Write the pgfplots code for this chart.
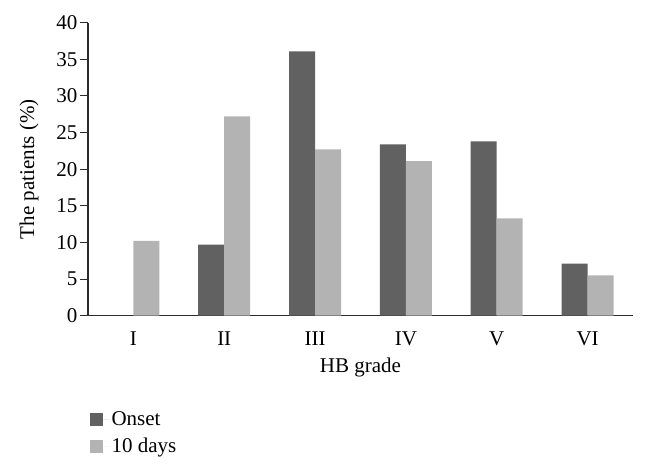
\documentclass[border=0pt]{standalone}
\usepackage{pgfplots}
\pgfplotsset{compat=1.18}
\usepackage{fontspec}
\setmainfont{Liberation Serif}
\definecolor{onset}{HTML}{616161}
\definecolor{tendays}{HTML}{B3B3B3}
\definecolor{axisline}{HTML}{2B2B2B}

\begin{document}
\begin{tikzpicture}
\path[use as bounding box] (0,0) rectangle (646pt,471pt);
\begin{axis}[
    at={(88pt,155.3pt)}, anchor=south west,
    scale only axis, width=545pt, height=293pt,
    ybar=0pt, bar width=26pt,
    xmin=-0.5, xmax=5.5,
    ymin=0, ymax=40, ytick={0,5,...,40},
    xtick=data, xticklabels={I,II,III,IV,V,VI},
    axis x line*=bottom, axis y line*=left,
    axis line style={line width=1.2pt, color=axisline},
    x axis line style={-}, y axis line style={-},
    xtick style={draw=none},
    ytick style={line width=1pt, color=axisline},
    tick align=outside, major tick length=8pt,
    /pgf/number format/assume math mode=true,
    tick label style={font=\fontsize{21}{24}\selectfont},
    xticklabel style={yshift=-5pt},
    yticklabel style={xshift=1pt},
    label style={font=\fontsize{21}{24}\selectfont},
    xlabel={HB grade}, ylabel={The patients (\%)},
    xlabel style={at={(axis description cs:0.5,-0.178)}, anchor=center},
    ylabel style={at={(axis description cs:-0.108,0.5)}, anchor=center},
    legend style={at={(axis description cs:-0.003,-0.313)}, anchor=north west,
        draw=none, fill=none, font=\fontsize{21}{24}\selectfont,
        row sep=7pt, legend cell align=left},
    legend image code/.code={\fill[#1] (0pt,-6.5pt) rectangle (13pt,6.5pt);
        \path (0pt,0pt) -- (20pt,0pt);},
]
\addplot[fill=onset, draw=none] coordinates {(0,0) (1,9.7) (2,36.1) (3,23.4) (4,23.8) (5,7.1)};
\addplot[fill=tendays, draw=none] coordinates {(0,10.2) (1,27.2) (2,22.7) (3,21.1) (4,13.3) (5,5.5)};
\legend{Onset, 10 days}
\end{axis}
\end{tikzpicture}
\end{document}
